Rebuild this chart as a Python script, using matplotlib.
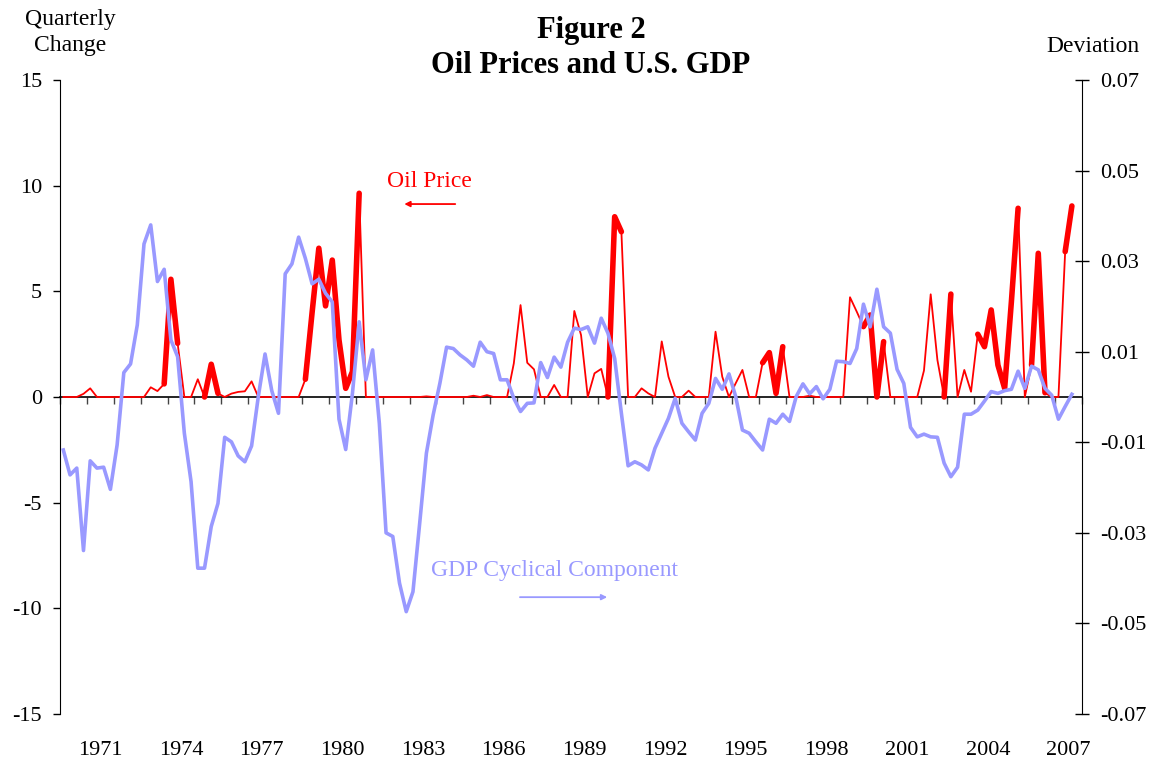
import numpy as np
import matplotlib.pyplot as plt
from matplotlib.transforms import blended_transform_factory

plt.rcParams['font.family'] = ['Liberation Serif', 'DejaVu Serif']
plt.rcParams['axes.unicode_minus'] = False

# quarterly data, 1970Q1 .. 2007Q3
start_year = 1970

oil = [0, 0, 0, 0.15, 0.41, 0, 0, 0, 0, 0,
       0, 0, 0, 0.46, 0.28, 0.62, 5.57, 2.54, 0, 0,
       0.84, 0, 1.55, 0.17, 0, 0.16, 0.24, 0.27, 0.74, 0,
       0, 0, 0, 0, 0, 0, 0.84, 4.0, 7.04, 4.31,
       6.48, 2.70, 0.41, 1.20, 9.64, 0, 0, 0, 0, 0,
       0, 0, 0, 0, 0.03, 0, 0, 0, 0, 0,
       0, 0.06, 0, 0.09, 0, 0, 0, 1.59, 4.35, 1.62,
       1.31, 0, 0, 0.57, 0, 0, 4.07, 2.93, 0, 1.12,
       1.33, 0, 8.53, 7.82, 0, 0, 0.41, 0.17, 0, 2.63,
       0.96, 0, 0, 0.30, 0, 0, 0, 3.09, 0.96, 0,
       0.65, 1.28, 0, 0, 1.62, 2.10, 0.17, 2.38, 0, 0,
       0, 0.06, 0, 0, 0, 0, 0, 4.72, 4.04, 3.33,
       3.88, 0, 2.62, 0, 0, 0, 0, 0, 1.25, 4.86,
       1.75, 0, 4.87, 0, 1.28, 0.25, 2.97, 2.38, 4.12, 1.51,
       0.41, 4.5, 8.93, 0, 1.51, 6.80, 0.2, 0, 0, 6.88,
       9.04]

gdp = [-0.0117, -0.0172, -0.0157, -0.0339, -0.0141, -0.0157, -0.0155, -0.0204, -0.0106, 0.0054,
       0.0073, 0.0159, 0.0338, 0.0380, 0.0255, 0.0282, 0.0126, 0.0089, -0.0080, -0.0187,
       -0.0378, -0.0378, -0.0286, -0.0235, -0.0089, -0.0099, -0.0130, -0.0143, -0.0108, 0.0001,
       0.0095, 0.0014, -0.0036, 0.0272, 0.0294, 0.0353, 0.0306, 0.0250, 0.0260, 0.0229,
       0.0210, -0.0049, -0.0116, 0.0008, 0.0166, 0.0038, 0.0104, -0.0058, -0.0300, -0.0308,
       -0.0411, -0.0474, -0.0430, -0.0279, -0.0124, -0.0040, 0.0030, 0.0110, 0.0107, 0.0093,
       0.0082, 0.0068, 0.0121, 0.0100, 0.0096, 0.0038, 0.0038, -0.0003, -0.0032, -0.0014,
       -0.0013, 0.0076, 0.0043, 0.0088, 0.0066, 0.0121, 0.0152, 0.0149, 0.0155, 0.0119,
       0.0174, 0.0141, 0.0085, -0.0036, -0.0152, -0.0143, -0.0150, -0.0161, -0.0113, -0.0080,
       -0.0047, -0.0003, -0.0058, -0.0077, -0.0095, -0.0036, -0.0014, 0.0041, 0.0017, 0.0051,
       0.0001, -0.0073, -0.0080, -0.0099, -0.0117, -0.0049, -0.0058, -0.0038, -0.0054, 0.0001,
       0.0029, 0.0007, 0.0023, -0.0004, 0.0017, 0.0079, 0.0078, 0.0074, 0.0107, 0.0205,
       0.0155, 0.0238, 0.0155, 0.0141, 0.0061, 0.0030, -0.0067, -0.0088, -0.0082, -0.0088,
       -0.0089, -0.0146, -0.0176, -0.0155, -0.0038, -0.0038, -0.0029, -0.0009, 0.0012, 0.0008,
       0.0014, 0.0017, 0.0057, 0.0019, 0.0068, 0.0060, 0.0019, 0.0004, -0.0049, -0.0021,
       0.0006]

# oil price shock periods (drawn thick)
shock_periods = [("1973Q4", "1974Q2"), ("1975Q2", "1975Q4"), ("1979Q1", "1981Q1"),
                 ("1990Q2", "1990Q4"), ("1996Q1", "1996Q4"), ("1999Q4", "2000Q3"),
                 ("2002Q4", "2003Q1"), ("2004Q1", "2005Q3"), ("2006Q1", "2006Q3"),
                 ("2007Q2", "2007Q3")]

year_labels = list(range(1971, 2008, 3))
left_ticks = [15, 10, 5, 0, -5, -10, -15]
right_ticks = [0.07, 0.05, 0.03, 0.01, -0.01, -0.03, -0.05, -0.07]


def q_index(s):
    y, q = s.split("Q")
    return (int(y) - start_year) * 4 + int(q) - 1


oil = np.array(oil, dtype=float)
gdp = np.array(gdp, dtype=float)
x = start_year + np.arange(len(oil)) / 4 + 0.125

mask = np.zeros(len(oil), dtype=bool)
for a, b in shock_periods:
    mask[q_index(a):q_index(b) + 1] = True
oil_shock = np.where(mask, oil, np.nan)

red = '#FF0000'
blue = '#9999FF'

fig = plt.figure(figsize=(11.53, 7.67), dpi=100)
ax = fig.add_axes([0.052, 0.0691, 0.8864, 0.8266])
ax2 = ax.twinx()

ax.plot(x, oil, color=red, lw=1.3, zorder=3)
ax.plot(x, oil_shock, color=red, lw=4.0, zorder=4, solid_capstyle='round')
ax2.plot(x, gdp, color=blue, lw=2.6, zorder=3)

ax.set_xlim(1970, 2008)
ax.set_ylim(-15, 15)
ax2.set_ylim(-0.07, 0.07)

ax.set_yticks(left_ticks)
ax.set_yticklabels([str(t) for t in left_ticks])
ax2.set_yticks(right_ticks)
ax2.set_yticklabels(['%.2f' % t for t in right_ticks])

for a in (ax, ax2):
    a.spines['top'].set_visible(False)
    a.spines['right'].set_visible(False)
    a.spines['left'].set_visible(False)
ax.spines['left'].set_visible(True)
ax2.spines['right'].set_visible(True)

ax.spines['bottom'].set_position(('data', 0))
ax.spines['bottom'].set_linewidth(1.2)
ax.set_xticks(range(1970, 2009))
ax.tick_params(axis='x', direction='out', length=5, width=1, color='#444444',
               labelbottom=False)
ax2.spines['bottom'].set_visible(False)

ax.tick_params(axis='y', direction='out', length=5, width=1, labelsize=16, pad=8)
ax2.tick_params(axis='y', direction='inout', length=10, width=1, labelsize=16, pad=8)

trans = blended_transform_factory(ax.transData, ax.transAxes)
for yr in year_labels:
    ax.text(yr + 0.5, -0.057, str(yr), transform=trans, ha='center', va='center',
            fontsize=16)

fig.text(0.5126, 0.979, "Figure 2\nOil Prices and U.S. GDP", ha='center', va='top',
         fontsize=22, fontweight='bold', linespacing=1.25)
fig.text(0.061, 0.988, "Quarterly\nChange", ha='center', va='top', fontsize=17,
         linespacing=1.3)
fig.text(0.948, 0.939, "Deviation", ha='center', va='center', fontsize=17)

ax.text(1983.75, 10.2, "Oil Price", color=red, ha='center', va='center', fontsize=17)
ax.annotate("", xy=(1982.7, 9.13), xytext=(1984.8, 9.13),
            arrowprops=dict(arrowstyle='-|>', color=red, lw=1.3, mutation_scale=8))
ax2.text(1988.4, -0.0384, "GDP Cyclical Component", color=blue, ha='center',
         va='center', fontsize=17)
ax2.annotate("", xy=(1990.45, -0.0442), xytext=(1987.0, -0.0442),
             arrowprops=dict(arrowstyle='-|>', color=blue, lw=1.3, mutation_scale=8))

fig.savefig("out.png", dpi=100)
